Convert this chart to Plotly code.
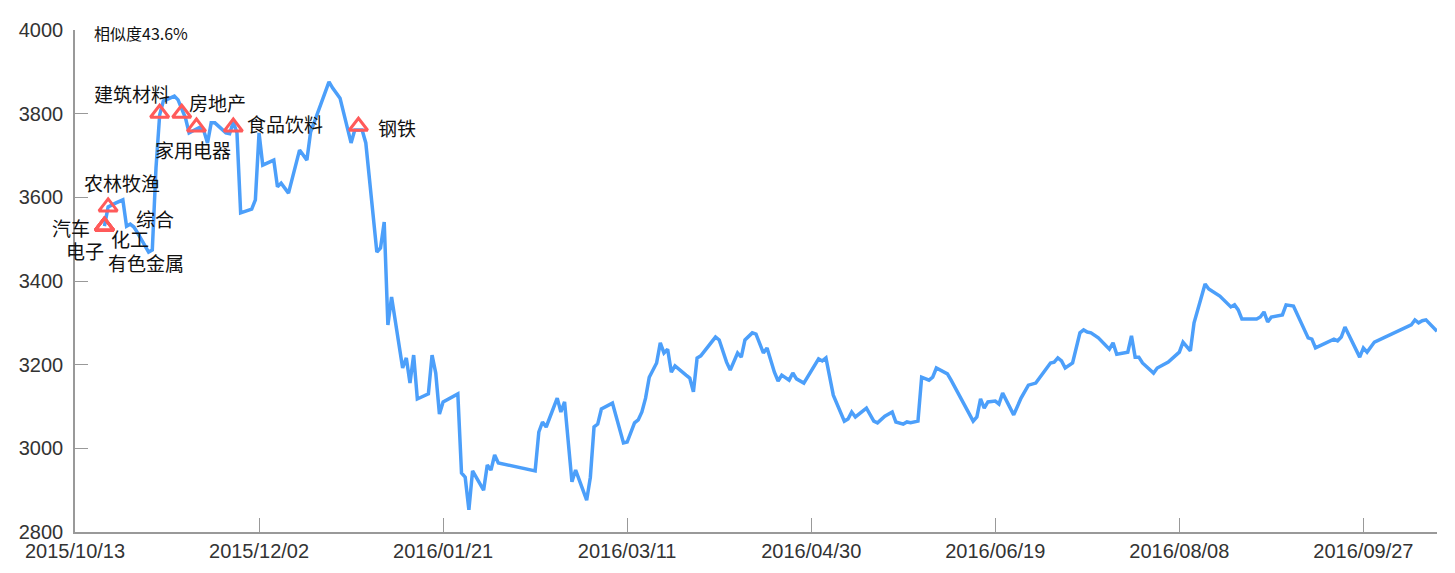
import plotly.graph_objects as go

# index closing values
dates = [
    "2015-10-21", "2015-10-22", "2015-10-24", "2015-10-26", "2015-10-27", "2015-10-28", "2015-10-29", "2015-10-30",
    "2015-11-02", "2015-11-03", "2015-11-04", "2015-11-05", "2015-11-06", "2015-11-09", "2015-11-10", "2015-11-11",
    "2015-11-12", "2015-11-13", "2015-11-16", "2015-11-17", "2015-11-18", "2015-11-19", "2015-11-20", "2015-11-23",
    "2015-11-24", "2015-11-25", "2015-11-26", "2015-11-27", "2015-11-30",
    "2015-12-01", "2015-12-02", "2015-12-03", "2015-12-06", "2015-12-07", "2015-12-08", "2015-12-10", "2015-12-13",
    "2015-12-15", "2015-12-16", "2015-12-21", "2015-12-22", "2015-12-24", "2015-12-27", "2015-12-28", "2015-12-30",
    "2015-12-31",
    "2016-01-03", "2016-01-04", "2016-01-05", "2016-01-06", "2016-01-07", "2016-01-10", "2016-01-11", "2016-01-12",
    "2016-01-13", "2016-01-14", "2016-01-17", "2016-01-18", "2016-01-19", "2016-01-20", "2016-01-21", "2016-01-25",
    "2016-01-26", "2016-01-27", "2016-01-28", "2016-01-29",
    "2016-02-01", "2016-02-02", "2016-02-03", "2016-02-04", "2016-02-05", "2016-02-15", "2016-02-16", "2016-02-17",
    "2016-02-18", "2016-02-21", "2016-02-22", "2016-02-23", "2016-02-25", "2016-02-26", "2016-02-29",
    "2016-03-01", "2016-03-02", "2016-03-03", "2016-03-04", "2016-03-07", "2016-03-08", "2016-03-10", "2016-03-11",
    "2016-03-13", "2016-03-14", "2016-03-15", "2016-03-16", "2016-03-17", "2016-03-19", "2016-03-20", "2016-03-21",
    "2016-03-22", "2016-03-23", "2016-03-24", "2016-03-27", "2016-03-28", "2016-03-29", "2016-03-30", "2016-03-31",
    "2016-04-04", "2016-04-05", "2016-04-07", "2016-04-08", "2016-04-10", "2016-04-11", "2016-04-12", "2016-04-14",
    "2016-04-15", "2016-04-17", "2016-04-18", "2016-04-20", "2016-04-21", "2016-04-22", "2016-04-24", "2016-04-25",
    "2016-04-26", "2016-04-28",
    "2016-05-02", "2016-05-03", "2016-05-04", "2016-05-06", "2016-05-09", "2016-05-10", "2016-05-11", "2016-05-12",
    "2016-05-15", "2016-05-17", "2016-05-18", "2016-05-20", "2016-05-22", "2016-05-23", "2016-05-25", "2016-05-26",
    "2016-05-27", "2016-05-29", "2016-05-30",
    "2016-06-01", "2016-06-02", "2016-06-03", "2016-06-06", "2016-06-07", "2016-06-13", "2016-06-14", "2016-06-15",
    "2016-06-16", "2016-06-17", "2016-06-19", "2016-06-20", "2016-06-21", "2016-06-22", "2016-06-24", "2016-06-26",
    "2016-06-28", "2016-06-30",
    "2016-07-04", "2016-07-05", "2016-07-06", "2016-07-07", "2016-07-08", "2016-07-10", "2016-07-12", "2016-07-13",
    "2016-07-14", "2016-07-15", "2016-07-17", "2016-07-20", "2016-07-21", "2016-07-22", "2016-07-25", "2016-07-26",
    "2016-07-27", "2016-07-28", "2016-07-29",
    "2016-08-01", "2016-08-02", "2016-08-05", "2016-08-08", "2016-08-09", "2016-08-11", "2016-08-12", "2016-08-15",
    "2016-08-16", "2016-08-18", "2016-08-19", "2016-08-22", "2016-08-23", "2016-08-24", "2016-08-25", "2016-08-29",
    "2016-08-30", "2016-08-31",
    "2016-09-01", "2016-09-02", "2016-09-05", "2016-09-06", "2016-09-08", "2016-09-12", "2016-09-13", "2016-09-14",
    "2016-09-19", "2016-09-20", "2016-09-21", "2016-09-22", "2016-09-26", "2016-09-27", "2016-09-28", "2016-09-30",
    "2016-10-10", "2016-10-11", "2016-10-12", "2016-10-13", "2016-10-14", "2016-10-17",
]
close = [
    3531, 3577, 3586, 3594, 3531, 3536, 3529, 3515,
    3469, 3474, 3670, 3797, 3830, 3842, 3833, 3809,
    3790, 3754, 3768, 3759, 3730, 3778, 3778, 3754,
    3752, 3780, 3754, 3563, 3572,
    3594, 3754, 3677, 3689, 3625, 3634, 3610, 3713,
    3689, 3756, 3876, 3861, 3837, 3730, 3761, 3761,
    3730,
    3469, 3479, 3541, 3295, 3362, 3192, 3216, 3156,
    3223, 3118, 3130, 3223, 3180, 3082, 3111, 3130,
    2941, 2931, 2853, 2946,
    2900, 2960, 2948, 2984, 2965, 2946, 3039, 3063,
    3051, 3120, 3087, 3111, 2920, 2948, 2876,
    2931, 3051, 3058, 3094, 3108, 3075, 3013, 3015,
    3061, 3068, 3087, 3120, 3170, 3204, 3252, 3228,
    3237, 3182, 3197, 3175, 3168, 3135, 3216, 3221,
    3266, 3259, 3206, 3187, 3228, 3218, 3259, 3276,
    3273, 3228, 3240, 3182, 3161, 3175, 3163, 3180,
    3166, 3156,
    3214, 3209, 3216, 3127, 3065, 3070, 3087, 3075,
    3096, 3065, 3061, 3077, 3087, 3063, 3058, 3063,
    3061, 3065, 3170,
    3163, 3170, 3192, 3178, 3163, 3065, 3075, 3118,
    3096, 3111, 3113, 3106, 3132, 3116, 3080, 3120,
    3151, 3156,
    3204, 3206, 3216, 3209, 3192, 3204, 3276, 3283,
    3278, 3276, 3264, 3237, 3252, 3225, 3230, 3269,
    3218, 3218, 3204,
    3180, 3192, 3206, 3230, 3254, 3233, 3300, 3393,
    3381, 3369, 3364, 3338, 3343, 3331, 3309, 3309,
    3314, 3326,
    3302, 3314, 3319, 3343, 3340, 3264, 3261, 3240,
    3261, 3257, 3266, 3290, 3218, 3240, 3230, 3254,
    3295, 3307, 3300, 3305, 3307, 3280,
]

# sector signal points
sector_names = ["汽车", "电子", "化工", "有色金属", "综合", "农林牧渔",
                "建筑材料", "房地产", "家用电器", "食品饮料", "钢铁"]
sector_dates = ["2015-10-21", "2015-10-21", "2015-10-21", "2015-10-21", "2015-10-21", "2015-10-22",
                "2015-11-05", "2015-11-11", "2015-11-15", "2015-11-25", "2015-12-29"]
sector_values = [3531, 3531, 3531, 3531, 3531, 3577, 3801, 3801, 3768, 3768, 3770]

similarity = "相似度43.6%"

tick_dates = ["2015-10-13", "2015-12-02", "2016-01-21", "2016-03-11",
              "2016-04-30", "2016-06-19", "2016-08-08", "2016-09-27"]
tick_labels = ["2015/10/13", "2015/12/02", "2016/01/21", "2016/03/11",
               "2016/04/30", "2016/06/19", "2016/08/08", "2016/09/27"]

# label offsets in pixels (dx right, dy up)
label_shift = {
    "汽车": (-33, -1), "电子": (-19, -24), "化工": (26, -12), "有色金属": (42, -36),
    "综合": (51, 8), "农林牧渔": (14, 24), "建筑材料": (-28, 20), "房地产": (36, 11),
    "家用电器": (-3, -22), "食品饮料": (52, 4), "钢铁": (39, -1),
}

cjk = "Noto Sans CJK SC"

fig = go.Figure()

fig.add_trace(go.Scatter(
    x=dates, y=close, mode="lines",
    line=dict(color="#4c9ffa", width=3.5),
    hoverinfo="skip", showlegend=False,
))

fig.add_trace(go.Scatter(
    x=sector_dates, y=sector_values, mode="markers",
    marker=dict(symbol="triangle-up-open", size=16, color="#ff5a5a",
                line=dict(width=3, color="#ff5a5a")),
    hoverinfo="skip", showlegend=False,
))

for name, d, v in zip(sector_names, sector_dates, sector_values):
    dx, dy = label_shift[name]
    fig.add_annotation(
        x=d, y=v, text=name, showarrow=False,
        xshift=dx, yshift=dy,
        font=dict(family=cjk, size=19, color="#111111"),
    )

fig.add_annotation(
    xref="paper", yref="paper", x=0, y=1, xanchor="left", yanchor="middle",
    xshift=17, yshift=-3, text=similarity, showarrow=False,
    font=dict(family=cjk, size=16, color="#111111"),
)

axis_font = dict(family="Liberation Sans, Arial, sans-serif", size=20, color="#333333")

fig.update_xaxes(
    type="date", range=["2015-10-13", "2016-10-17"],
    tickvals=tick_dates, ticktext=tick_labels,
    ticks="inside", ticklen=14, tickwidth=1, tickcolor="#999999",
    showline=True, linecolor="#999999", linewidth=1.5,
    showgrid=False, zeroline=False, tickfont=axis_font, automargin=False,
)
fig.update_yaxes(
    range=[2800, 4000], dtick=200,
    ticks="inside", ticklen=13, tickwidth=1, tickcolor="#999999",
    showline=True, linecolor="#999999", linewidth=1.5,
    showgrid=False, zeroline=False, tickfont=axis_font,
    ticklabelstandoff=6, automargin=False,
)

# the page body adds 8px around the figure, so margins are trimmed to match
fig.update_layout(
    width=1439, height=557,
    margin=dict(l=67, r=10, t=22, b=33),
    plot_bgcolor="white", paper_bgcolor="white",
)

fig.write_html("out.html")
